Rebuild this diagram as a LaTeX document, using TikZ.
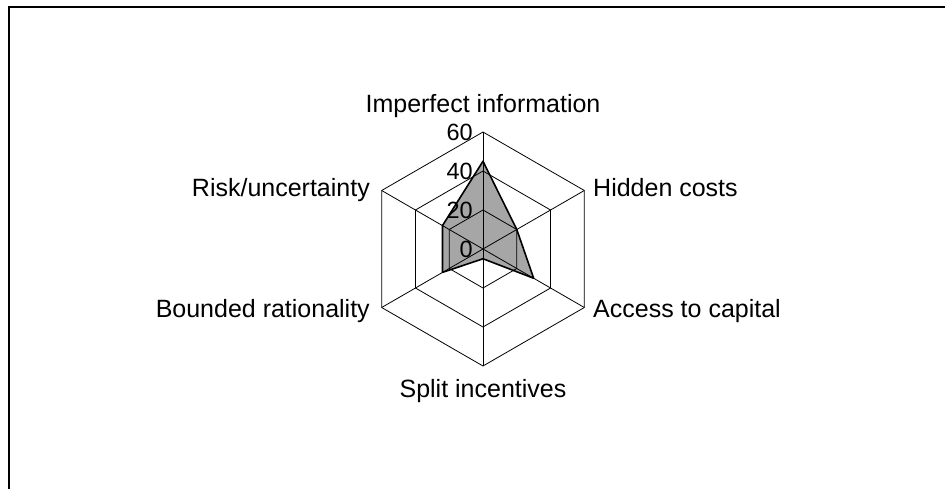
\documentclass[tikz,border=0pt]{standalone}
\usepackage{fontspec}
\setmainfont{Liberation Sans}
\usepackage{tikz}

\definecolor{areagray}{RGB}{166,166,166}
\tikzset{
  axislabel/.style={inner sep=0pt, font=\fontsize{25}{30}\selectfont},
  ticklabel/.style={inner sep=0pt, anchor=east, font=\fontsize{23.5}{28}\selectfont},
  gridline/.style={line width=0.8pt, black},
  seriesline/.style={line width=1.6pt, black, line join=round},
}

\begin{document}
\begin{tikzpicture}[x=1pt, y=1pt]
\path[use as bounding box, clip] (-483,-239) rectangle (462,249);
% chart frame (cut off on the right and at the bottom)
\draw[line width=1.8pt] (-474,242) rectangle (490,-260);

% data points, one per axis, clockwise from the top
\foreach \v [count=\i] in {45,20,30,5,24,24}
  \coordinate (d\i) at ({90-60*(\i-1)}:{\v*1.95});
\fill[areagray] (d1) -- (d2) -- (d3) -- (d4) -- (d5) -- (d6) -- cycle;

% rings and spokes
\foreach \r in {39,78,117}
  \draw[gridline] (90:\r) -- (30:\r) -- (-30:\r) -- (-90:\r) -- (-150:\r) -- (150:\r) -- cycle;
\coordinate (o) at (0,0);
\foreach \a in {90,30,-30,-90,-150,150}
  \draw[gridline] (o) -- (\a:117);

\draw[seriesline] (d1) -- (d2) -- (d3) -- (d4) -- (d5) -- (d6) -- cycle;

% scale
\foreach \t in {0,20,40,60}
  \node[ticklabel] (t\t) at (-10,{\t*1.95}) {\t};

% categories
\node[axislabel, anchor=base] (imp) at (0,137) {Imperfect information};
\node[axislabel, anchor=base west] (hid) at (110,53) {Hidden costs};
\node[axislabel, anchor=base west] (acc) at (110,-68) {Access to capital};
\node[axislabel, anchor=base] (spl) at (0,-148) {Split incentives};
\node[axislabel, anchor=base east] (bnd) at (-113,-68) {Bounded rationality};
\node[axislabel, anchor=base east] (rsk) at (-113,53) {Risk/uncertainty};
\end{tikzpicture}
\end{document}
